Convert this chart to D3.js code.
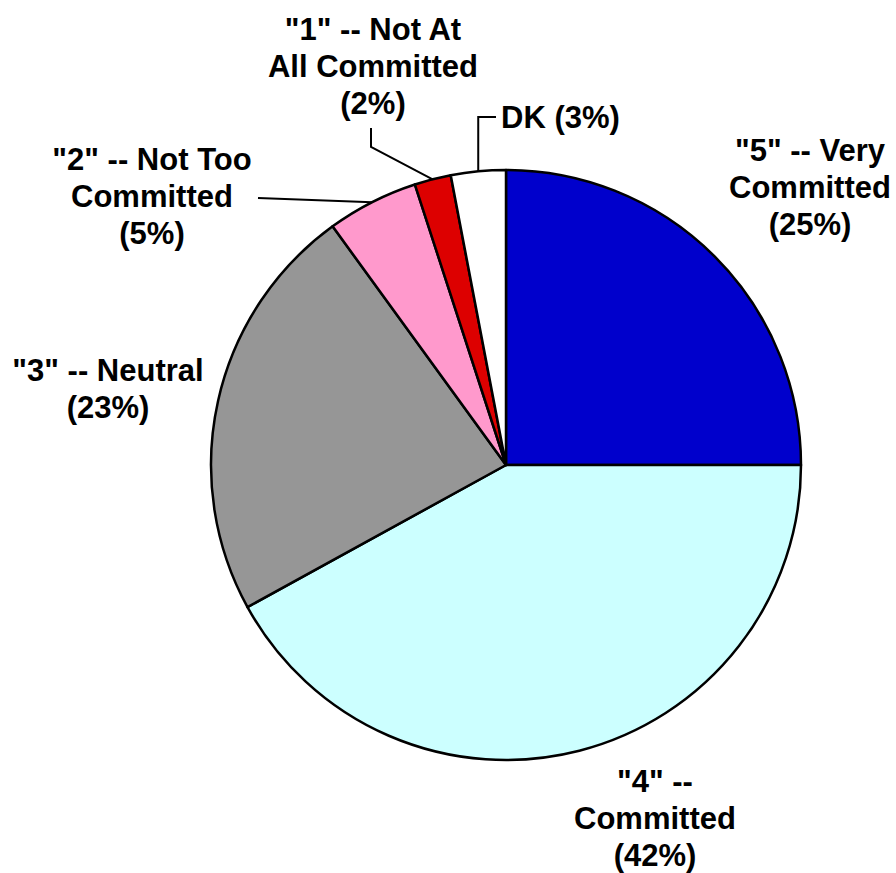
<!DOCTYPE html>
<html>
<head>
<meta charset="utf-8">
<script src="https://cdn.jsdelivr.net/npm/d3@7"></script>
<style>
  html, body { margin: 0; padding: 0; background: #fff; }
  svg { display: block; }
  text { font-family: "Liberation Sans", Arial, sans-serif; font-weight: bold; font-size: 31px; fill: #000; }
</style>
</head>
<body>
<svg id="chart" width="896" height="873"></svg>
<script>
const categories = ['"5" -- Very Committed', '"4" -- Committed', '"3" -- Neutral', '"2" -- Not Too Committed', '"1" -- Not At All Committed', 'DK'];
const values = [25, 42, 23, 5, 2, 3];
const colors = ['#0000CC', '#CCFFFF', '#969696', '#FF99CC', '#DD0000', '#FFFFFF'];
const labelLines = [
  ['"5" -- Very', 'Committed', '(25%)'],
  ['"4" --', 'Committed', '(42%)'],
  ['"3" -- Neutral', '(23%)'],
  ['"2" -- Not Too', 'Committed', '(5%)'],
  ['"1" -- Not At', 'All Committed', '(2%)'],
  ['DK (3%)']
];

const svg = d3.select('#chart');
const cx = 506, cy = 465, r = 295;
const g = svg.append('g').attr('transform', `translate(${cx},${cy})`);

const pie = d3.pie().sort(null).value(d => d.v).startAngle(0).endAngle(2 * Math.PI);
const data = categories.map((c, i) => ({ c, v: values[i], color: colors[i], lines: labelLines[i] }));
const arcs = pie(data);
const arc = d3.arc().innerRadius(0).outerRadius(r);

g.selectAll('path.slice').data(arcs).enter().append('path')
  .attr('class', 'slice')
  .attr('d', arc)
  .attr('fill', d => d.data.color)
  .attr('stroke', '#000')
  .attr('stroke-width', 2.5)
  .attr('stroke-linejoin', 'round');

// label layout (absolute page coords of label anchor, first baseline)
const layout = [
  { x: 810, y: 161, anchor: 'middle' },
  { x: 655, y: 792, anchor: 'middle' },
  { x: 108, y: 381, anchor: 'middle' },
  { x: 152, y: 170, anchor: 'middle' },
  { x: 373, y: 40, anchor: 'middle' },
  { x: 501, y: 128, anchor: 'start' }
];
const lineH = 37;

arcs.forEach((d, i) => {
  const L = layout[i];
  const t = svg.append('text').attr('text-anchor', L.anchor);
  d.data.lines.forEach((ln, j) => {
    t.append('tspan').attr('x', L.x).attr('y', L.y + j * lineH).text(ln);
  });
});

// leader lines for small slices
function edgePoint(d) {
  const a = (d.startAngle + d.endAngle) / 2;
  return [cx + r * Math.sin(a), cy - r * Math.cos(a)];
}
const leaders = [
  { i: 3, pts: p => [p, [258, 198]] },
  { i: 4, pts: p => [p, [371, 147], [371, 128]] },
  { i: 5, pts: p => [p, [p[0], 117], [496, 117]] }
];
const line = d3.line();
leaders.forEach(l => {
  const p = edgePoint(arcs[l.i]);
  svg.append('path')
    .attr('d', line(l.pts(p)))
    .attr('fill', 'none')
    .attr('stroke', '#000')
    .attr('stroke-width', 2);
});
</script>
</body>
</html>
